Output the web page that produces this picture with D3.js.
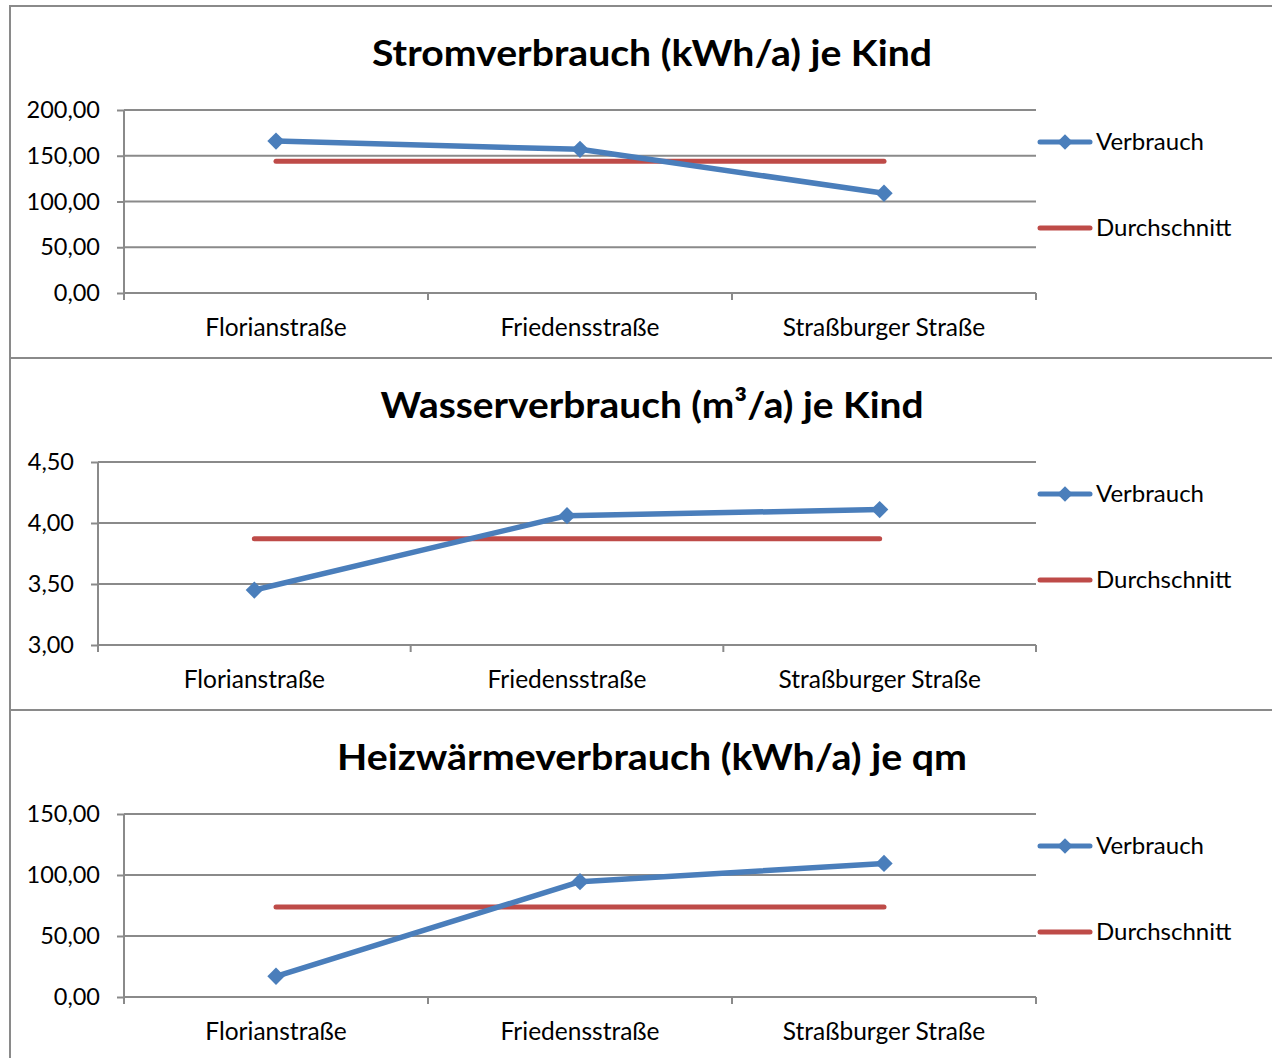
<!DOCTYPE html>
<html>
<head>
<meta charset="utf-8">
<script src="https://cdn.jsdelivr.net/npm/d3@7"></script>
<style>
  body { margin: 0; background: #fff; }
  text { font-family: Lato, "Open Sans", sans-serif; fill: #000; }
</style>
</head>
<body>
<script>
// categories and values
var categories = ['Florianstraße', 'Friedensstraße', 'Straßburger Straße'];
var seriesNames = ['Verbrauch', 'Durchschnitt'];

var stromVerbrauch = [166, 157, 109];
var stromSchnitt = [144, 144, 144];
var stromTicks = [0, 50, 100, 150, 200];

var wasserVerbrauch = [3.45, 4.06, 4.11];
var wasserSchnitt = [3.87, 3.87, 3.87];
var wasserTicks = [3.0, 3.5, 4.0, 4.5];

var heizVerbrauch = [17, 94.5, 109.5];
var heizSchnitt = [73.7, 73.7, 73.7];
var heizTicks = [0, 50, 100, 150];

var titles = ['Stromverbrauch (kWh/a) je Kind', 'Wasserverbrauch (m³/a) je Kind', 'Heizwärmeverbrauch (kWh/a) je qm'];
var titleWidths = [560, 543, 630];

var panels = [
    {title: titles[0], tw: titleWidths[0], top: 6, left: 124, verbrauch: stromVerbrauch, schnitt: stromSchnitt, ticks: stromTicks},
    {title: titles[1], tw: titleWidths[1], top: 358, left: 98, verbrauch: wasserVerbrauch, schnitt: wasserSchnitt, ticks: wasserTicks},
    {title: titles[2], tw: titleWidths[2], top: 710, left: 124, verbrauch: heizVerbrauch, schnitt: heizSchnitt, ticks: heizTicks}
];

var blue = '#4a7ebb', red = '#be4b48', grey = '#8a8a8a';
var fmt = function(v) { return d3.format('.2f')(v).replace('.', ','); };

var svg = d3.select('body').append('svg').attr('width', 1272).attr('height', 1058);

panels.forEach(function(p) {
    var g = svg.append('g');
    g.append('rect')
        .attr('x', 10).attr('y', p.top)
        .attr('width', 1300).attr('height', 352)
        .attr('fill', '#fff').attr('stroke', grey).attr('stroke-width', 2);

    g.append('text')
        .attr('x', 652).attr('y', p.top + 60)
        .attr('text-anchor', 'middle')
        .attr('font-size', 37).attr('font-weight', 'bold')
        .attr('textLength', p.tw).attr('lengthAdjust', 'spacingAndGlyphs')
        .text(p.title);

    var y0 = p.top + 287, y1 = p.top + 104;
    var x = d3.scaleBand().domain(categories).range([p.left, 1036]);
    var y = d3.scaleLinear().domain(d3.extent(p.ticks)).range([y0, y1]);
    var cx = function(d, i) { return x(categories[i]) + x.bandwidth() / 2; };

    // gridlines
    g.selectAll('.grid').data(p.ticks).enter().append('line')
        .attr('x1', p.left).attr('x2', 1036)
        .attr('y1', function(d) { return y(d); }).attr('y2', function(d) { return y(d); })
        .attr('stroke', grey).attr('stroke-width', 2);

    var ya = g.append('g').attr('transform', 'translate(' + p.left + ',0)')
        .call(d3.axisLeft(y).tickValues(p.ticks).tickFormat(fmt).tickSize(7).tickPadding(17));
    ya.select('.domain').remove();
    ya.selectAll('line').attr('stroke', grey).attr('stroke-width', 2);
    ya.selectAll('text').attr('font-size', 23.5).attr('font-family', 'Lato').attr('fill', '#000');

    g.append('line')
        .attr('x1', p.left).attr('x2', p.left).attr('y1', y1).attr('y2', y0 + 7)
        .attr('stroke', grey).attr('stroke-width', 2);

    var xa = g.append('g').attr('transform', 'translate(0,' + y0 + ')')
        .call(d3.axisBottom(x).tickSize(0).tickPadding(26));
    xa.select('.domain').remove();
    xa.selectAll('text').attr('font-size', 24.5).attr('font-family', 'Lato').attr('fill', '#000');

    var bounds = categories.map(function(c) { return x(c); }).concat([1036]);
    g.selectAll('.xt').data(bounds).enter().append('line')
        .attr('x1', function(d) { return d; }).attr('x2', function(d) { return d; })
        .attr('y1', y0).attr('y2', y0 + 7)
        .attr('stroke', grey).attr('stroke-width', 2);

    var line = d3.line().x(cx).y(function(d) { return y(d); });

    g.append('path').datum(p.schnitt).attr('d', line)
        .attr('fill', 'none').attr('stroke', red).attr('stroke-width', 5).attr('stroke-linecap', 'round');
    g.append('path').datum(p.verbrauch).attr('d', line)
        .attr('fill', 'none').attr('stroke', blue).attr('stroke-width', 5.5).attr('stroke-linejoin', 'round');

    var diamond = d3.symbol().type(d3.symbolSquare).size(150);
    g.selectAll('.mk').data(p.verbrauch).enter().append('path')
        .attr('d', diamond)
        .attr('transform', function(d, i) { return 'translate(' + cx(d, i) + ',' + y(d) + ') rotate(45)'; })
        .attr('fill', blue);

    // legend
    var ly = [p.top + 136, p.top + 222];
    g.append('line').attr('x1', 1040).attr('x2', 1090).attr('y1', ly[0]).attr('y2', ly[0])
        .attr('stroke', blue).attr('stroke-width', 5).attr('stroke-linecap', 'round');
    g.append('path').attr('d', d3.symbol().type(d3.symbolSquare).size(120))
        .attr('transform', 'translate(1065,' + ly[0] + ') rotate(45)').attr('fill', blue);
    g.append('line').attr('x1', 1040).attr('x2', 1090).attr('y1', ly[1]).attr('y2', ly[1])
        .attr('stroke', red).attr('stroke-width', 5).attr('stroke-linecap', 'round');
    g.selectAll('.lt').data(seriesNames).enter().append('text')
        .attr('x', 1096).attr('y', function(d, i) { return ly[i] + 8; })
        .attr('font-size', 24)
        .text(function(d) { return d; });
});
</script>
</body>
</html>
